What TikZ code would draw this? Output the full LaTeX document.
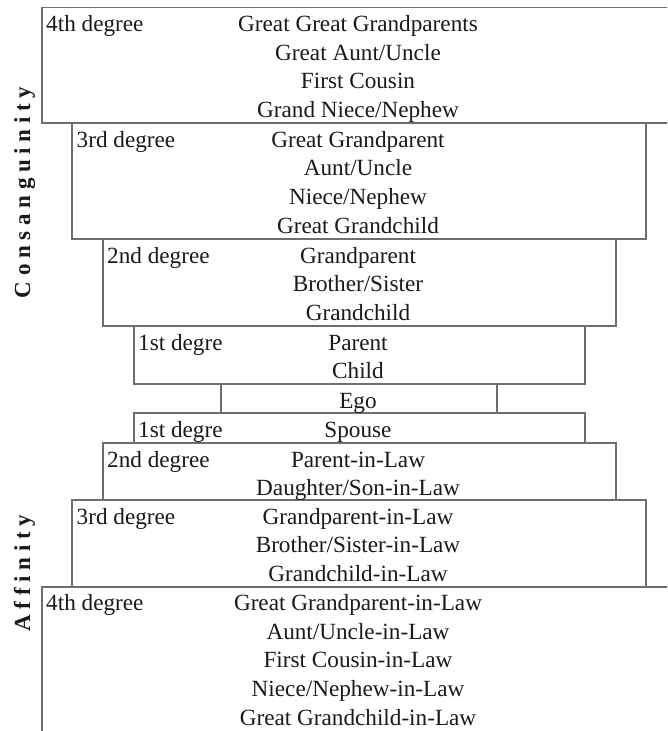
\documentclass[tikz,border=0pt]{standalone}
\usepackage{fontspec}
\setmainfont{Liberation Serif}
\definecolor{boxline}{HTML}{6E6E6E}
\definecolor{txt}{HTML}{1A1A1A}
\begin{document}
\begin{tikzpicture}[x=1pt,y=-1pt,
  box/.style={draw=boxline,line width=1.3pt},
  entry/.style={anchor=base,inner sep=0pt,text=txt,font=\fontsize{23.2}{23.2}\selectfont},
  deg/.style={anchor=base west,inner sep=0pt,text=txt,font=\fontsize{23.2}{23.2}\selectfont},
  side/.style={anchor=base,rotate=90,inner sep=0pt,text=txt,font=\fontsize{23}{23}\selectfont\bfseries}]
\useasboundingbox (0,0) rectangle (667,731);
\clip (0,0) rectangle (667,731);
\fill[white] (0,0) rectangle (667,731);
% boxes
\draw[box] (42,7.5) rectangle (676,123) coordinate (c4);
\draw[box] (72,123) rectangle (646,239) coordinate (c3);
\draw[box] (103,239) rectangle (616,326) coordinate (c2);
\draw[box] (134,326) rectangle (585,384) coordinate (c1);
\draw[box] (221,384) rectangle (497,413) coordinate (ego);
\draw[box] (134,413) rectangle (585,443) coordinate (a1);
\draw[box] (103,443) rectangle (616,500) coordinate (a2);
\draw[box] (72,500) rectangle (646,587) coordinate (a3);
\draw[box] (42,587) rectangle (676,760) coordinate (a4);
% degree labels
\node[deg] (dc4) at (46,31.5) {4th degree};
\node[deg] (dc3) at (76.5,147) {3rd degree};
\node[deg] (dc2) at (107,263) {2nd degree};
\node[deg] (dc1) at (138,350) {1st degre};
\node[deg] (da1) at (138,437) {1st degre};
\node[deg] (da2) at (107,467) {2nd degree};
\node[deg] (da3) at (76.5,524) {3rd degree};
\node[deg] (da4) at (46,610.5) {4th degree};
% entries
\node[entry] (t1) at (358,31.5) {Great Great Grandparents};
\node[entry] (t2) at (358,60.2) {Great Aunt/Uncle};
\node[entry] (t3) at (358,88.9) {First Cousin};
\node[entry] (t4) at (358,117.6) {Grand Niece/Nephew};
\node[entry] (t5) at (358,147) {Great Grandparent};
\node[entry] (t6) at (358,175.7) {Aunt/Uncle};
\node[entry] (t7) at (358,204.4) {Niece/Nephew};
\node[entry] (t8) at (358,233.1) {Great Grandchild};
\node[entry] (t9) at (358,263) {Grandparent};
\node[entry] (t10) at (358,291.7) {Brother/Sister};
\node[entry] (t11) at (358,320.4) {Grandchild};
\node[entry] (t12) at (358,350) {Parent};
\node[entry] (t13) at (358,378.7) {Child};
\node[entry] (t14) at (358,408) {Ego};
\node[entry] (t15) at (358,437) {Spouse};
\node[entry] (t16) at (358,467) {Parent-in-Law};
\node[entry] (t17) at (358,495.7) {Daughter/Son-in-Law};
\node[entry] (t18) at (358,524) {Grandparent-in-Law};
\node[entry] (t19) at (358,552.7) {Brother/Sister-in-Law};
\node[entry] (t20) at (358,581.4) {Grandchild-in-Law};
\node[entry] (t21) at (358,610.5) {Great Grandparent-in-Law};
\node[entry] (t22) at (358,639.2) {Aunt/Uncle-in-Law};
\node[entry] (t23) at (358,667.9) {First Cousin-in-Law};
\node[entry] (t24) at (358,696.6) {Niece/Nephew-in-Law};
\node[entry] (t25) at (358,725.3) {Great Grandchild-in-Law};
% side labels
\node[side] (cons) at (30,192.5) {C\kern5.7pt o\kern5.7pt n\kern5.7pt s\kern5.7pt a\kern5.7pt n\kern5.7pt g\kern5.7pt u\kern5.7pt i\kern5.7pt n\kern5.7pt i\kern5.7pt t\kern5.7pt y};
\node[side] (aff) at (30,573) {A\kern5.7pt f\kern5.7pt f\kern5.7pt i\kern5.7pt n\kern5.7pt i\kern5.7pt t\kern5.7pt y};
\end{tikzpicture}
\end{document}
